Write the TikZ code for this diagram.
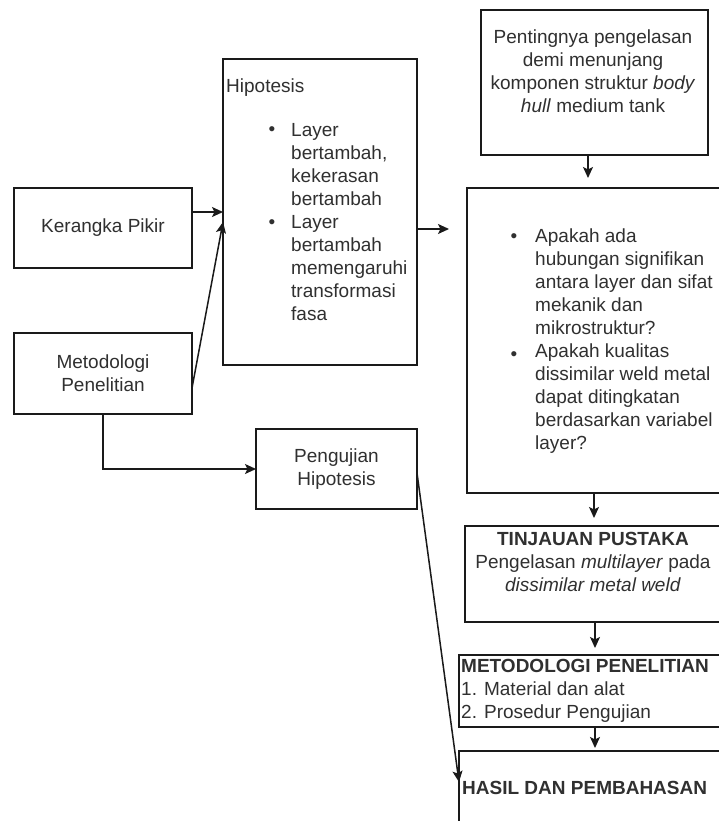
\documentclass[tikz,border=0pt]{standalone}
\usepackage{fontspec}
\setmainfont{Liberation Sans}
\usetikzlibrary{arrows.meta}
\newcommand\fsz{\fontsize{19}{23}\selectfont}
\definecolor{txtc}{HTML}{303030}
\definecolor{linec}{HTML}{1A1A1A}
\begin{document}
\begin{tikzpicture}[x=1pt,y=-1pt,
  box/.style={draw=linec,line width=1.5pt,inner sep=0pt,outer sep=0pt,rectangle,font=\fsz,text=txtc,align=center},
  txt/.style={inner sep=0pt,font=\fsz,text=txtc},
  arr/.style={-{Stealth[length=11pt,width=10pt,inset=2.5pt]},line width=1.5pt,draw=linec}]
\useasboundingbox (0,0) rectangle (719,821);
\fill[white] (0,0) rectangle (719,821);
\clip (0,0) rectangle (719,821);

% left column
\node[box,minimum width=178pt,minimum height=80pt] (kp) at (103,228) {Kerangka Pikir};
\node[box,minimum width=178pt,minimum height=81pt] (mp) at (103,373.5) {Metodologi\\Penelitian};

% hipotesis
\node[box,minimum width=194pt,minimum height=306pt] (hip) at (320,212) {};
\node[txt,anchor=west] (hiplab) at (226,88) {Hipotesis};
\node[txt] (hb1) at (272,131) {•};
\node[txt] (hb2) at (272,224) {•};
\node[txt,anchor=west,align=left] (hiplist) at (291,222.5) {Layer\\bertambah,\\kekerasan\\bertambah\\Layer\\bertambah\\memengaruhi\\transformasi\\fasa};

% pengujian
\node[box,minimum width=161pt,minimum height=80pt] (peng) at (336.5,469) {Pengujian\\Hipotesis};

% right column
\node[box,minimum width=227pt,minimum height=145pt] (pent) at (594.5,82.5) {};
\node[txt,align=center] (penttxt) at (593,71) {Pentingnya pengelasan\\demi menunjang\\komponen struktur \textit{body}\\\textit{hull} medium tank};

\node[box,minimum width=293pt,minimum height=305pt] (q) at (613.5,340.5) {};
\node[txt] (qb1) at (514,238) {•};
\node[txt] (qb2) at (514,356) {•};
\node[txt,anchor=west,align=left] (qtxt) at (535,341) {Apakah ada\\hubungan signifikan\\antara layer dan sifat\\mekanik dan\\mikrostruktur?\\Apakah kualitas\\dissimilar weld metal\\dapat ditingkatan\\berdasarkan variabel\\layer?};

\node[box,minimum width=295pt,minimum height=96pt] (tin) at (612.5,574) {};
\node[txt,align=center] (tintxt) at (593,562) {\textbf{TINJAUAN PUSTAKA}\\Pengelasan \textit{multilayer} pada\\\textit{dissimilar metal weld}};

\node[box,minimum width=301pt,minimum height=72pt] (met) at (609.5,691) {};
\node[txt,anchor=west,align=left] (mettxt) at (461,691) {\textbf{METODOLOGI PENELITIAN}\\1. Material dan alat\\2. Prosedur Pengujian};

\node[box,minimum width=301pt,minimum height=100pt] (has) at (609.5,801) {};
\node[txt,anchor=west] (hastxt) at (462,788) {\textbf{HASIL DAN PEMBAHASAN}};

% connectors
\draw[arr] ([yshift=16pt]kp.east) -- ++(31,0);
\draw[arr] ([yshift=-14.5pt]mp.east) -- ([yshift=-10pt]hip.west);
\draw[arr] ([yshift=-17pt]hip.east) -- ++(32,0);
\draw[arr] ([xshift=-6.5pt]pent.south) -- ++(0,23);
\draw[arr] ([xshift=-19.5pt]q.south) -- ++(0,25);
\draw[arr] ([xshift=-17.5pt]tin.south) -- ++(0,26);
\draw[arr] ([xshift=-14.5pt]met.south) -- ++(0,21);
\draw[arr] (mp.south) -- (mp.south |- peng.west) -- (peng.west);
\draw[arr] ([yshift=-4pt]peng.east) -- ([yshift=19pt]has.west);
\end{tikzpicture}
\end{document}
